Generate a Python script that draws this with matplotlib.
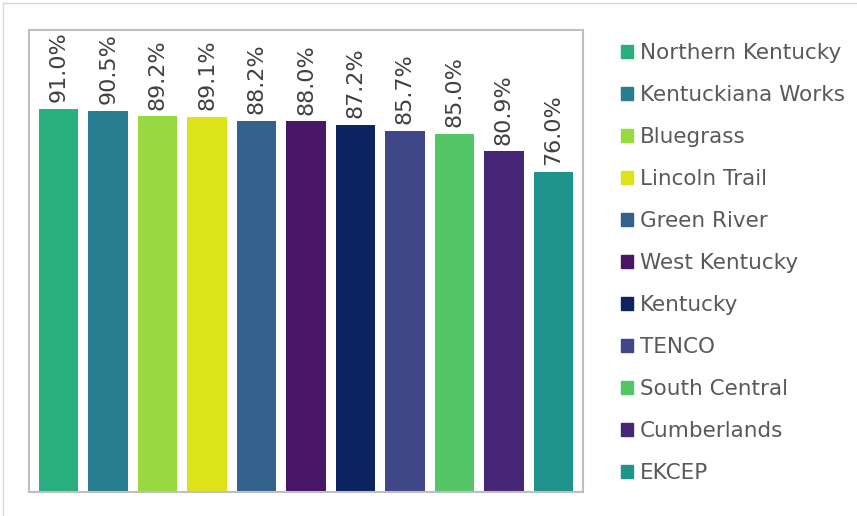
import matplotlib.pyplot as plt
from matplotlib.lines import Line2D
import numpy as np

regions = ['Northern Kentucky', 'Kentuckiana Works', 'Bluegrass', 'Lincoln Trail',
           'Green River', 'West Kentucky', 'Kentucky', 'TENCO', 'South Central',
           'Cumberlands', 'EKCEP']
rates = [91.0, 90.5, 89.2, 89.1, 88.2, 88.0, 87.2, 85.7, 85.0, 80.9, 76.0]
colors = ['#2AB07F', '#287D8E', '#98D942', '#DCE319', '#33638D', '#481567',
          '#0C2461', '#3F4788', '#55C667', '#482677', '#20938C']

fig = plt.figure(figsize=(8.57, 5.16), dpi=100)
ax = fig.add_axes([29 / 857, 1 - 492 / 516, (583 - 29) / 857, (492 - 30) / 516])

x = np.arange(len(regions))
bars = ax.bar(x, rates, width=0.8, color=colors, label=regions)

# rotated value labels above each bar
for xi, v in zip(x, rates):
    ax.text(xi, v + 1.6, f'{v:.1f}%', rotation=90, ha='center', va='bottom',
            fontsize=16, color='#404040')

ax.set_xlim(-0.6, len(regions) - 0.4)
ax.set_ylim(0, 109.7)
ax.set_xticks([])
ax.set_yticks([])
for s in ax.spines.values():
    s.set_color('#bfbfbf')
    s.set_linewidth(1.5)

# legend on the right
handles = [plt.Rectangle((0, 0), 1, 1, color=c) for c in colors]
leg = fig.legend(handles, regions, loc='upper left', bbox_to_anchor=(602 / 857, 1 - 24 / 516),
                 frameon=False, fontsize=15.5, handlelength=0.55, handleheight=0.55,
                 handletextpad=0.3, labelspacing=1.02, labelcolor='#595959')

# outer chart frame
fig.add_artist(Line2D([3 / 857, 1], [1 - 3 / 516, 1 - 3 / 516], color='#d9d9d9', lw=1))
fig.add_artist(Line2D([3 / 857, 3 / 857], [0, 1 - 3 / 516], color='#d9d9d9', lw=1))

fig.savefig('out.png', dpi=100)
